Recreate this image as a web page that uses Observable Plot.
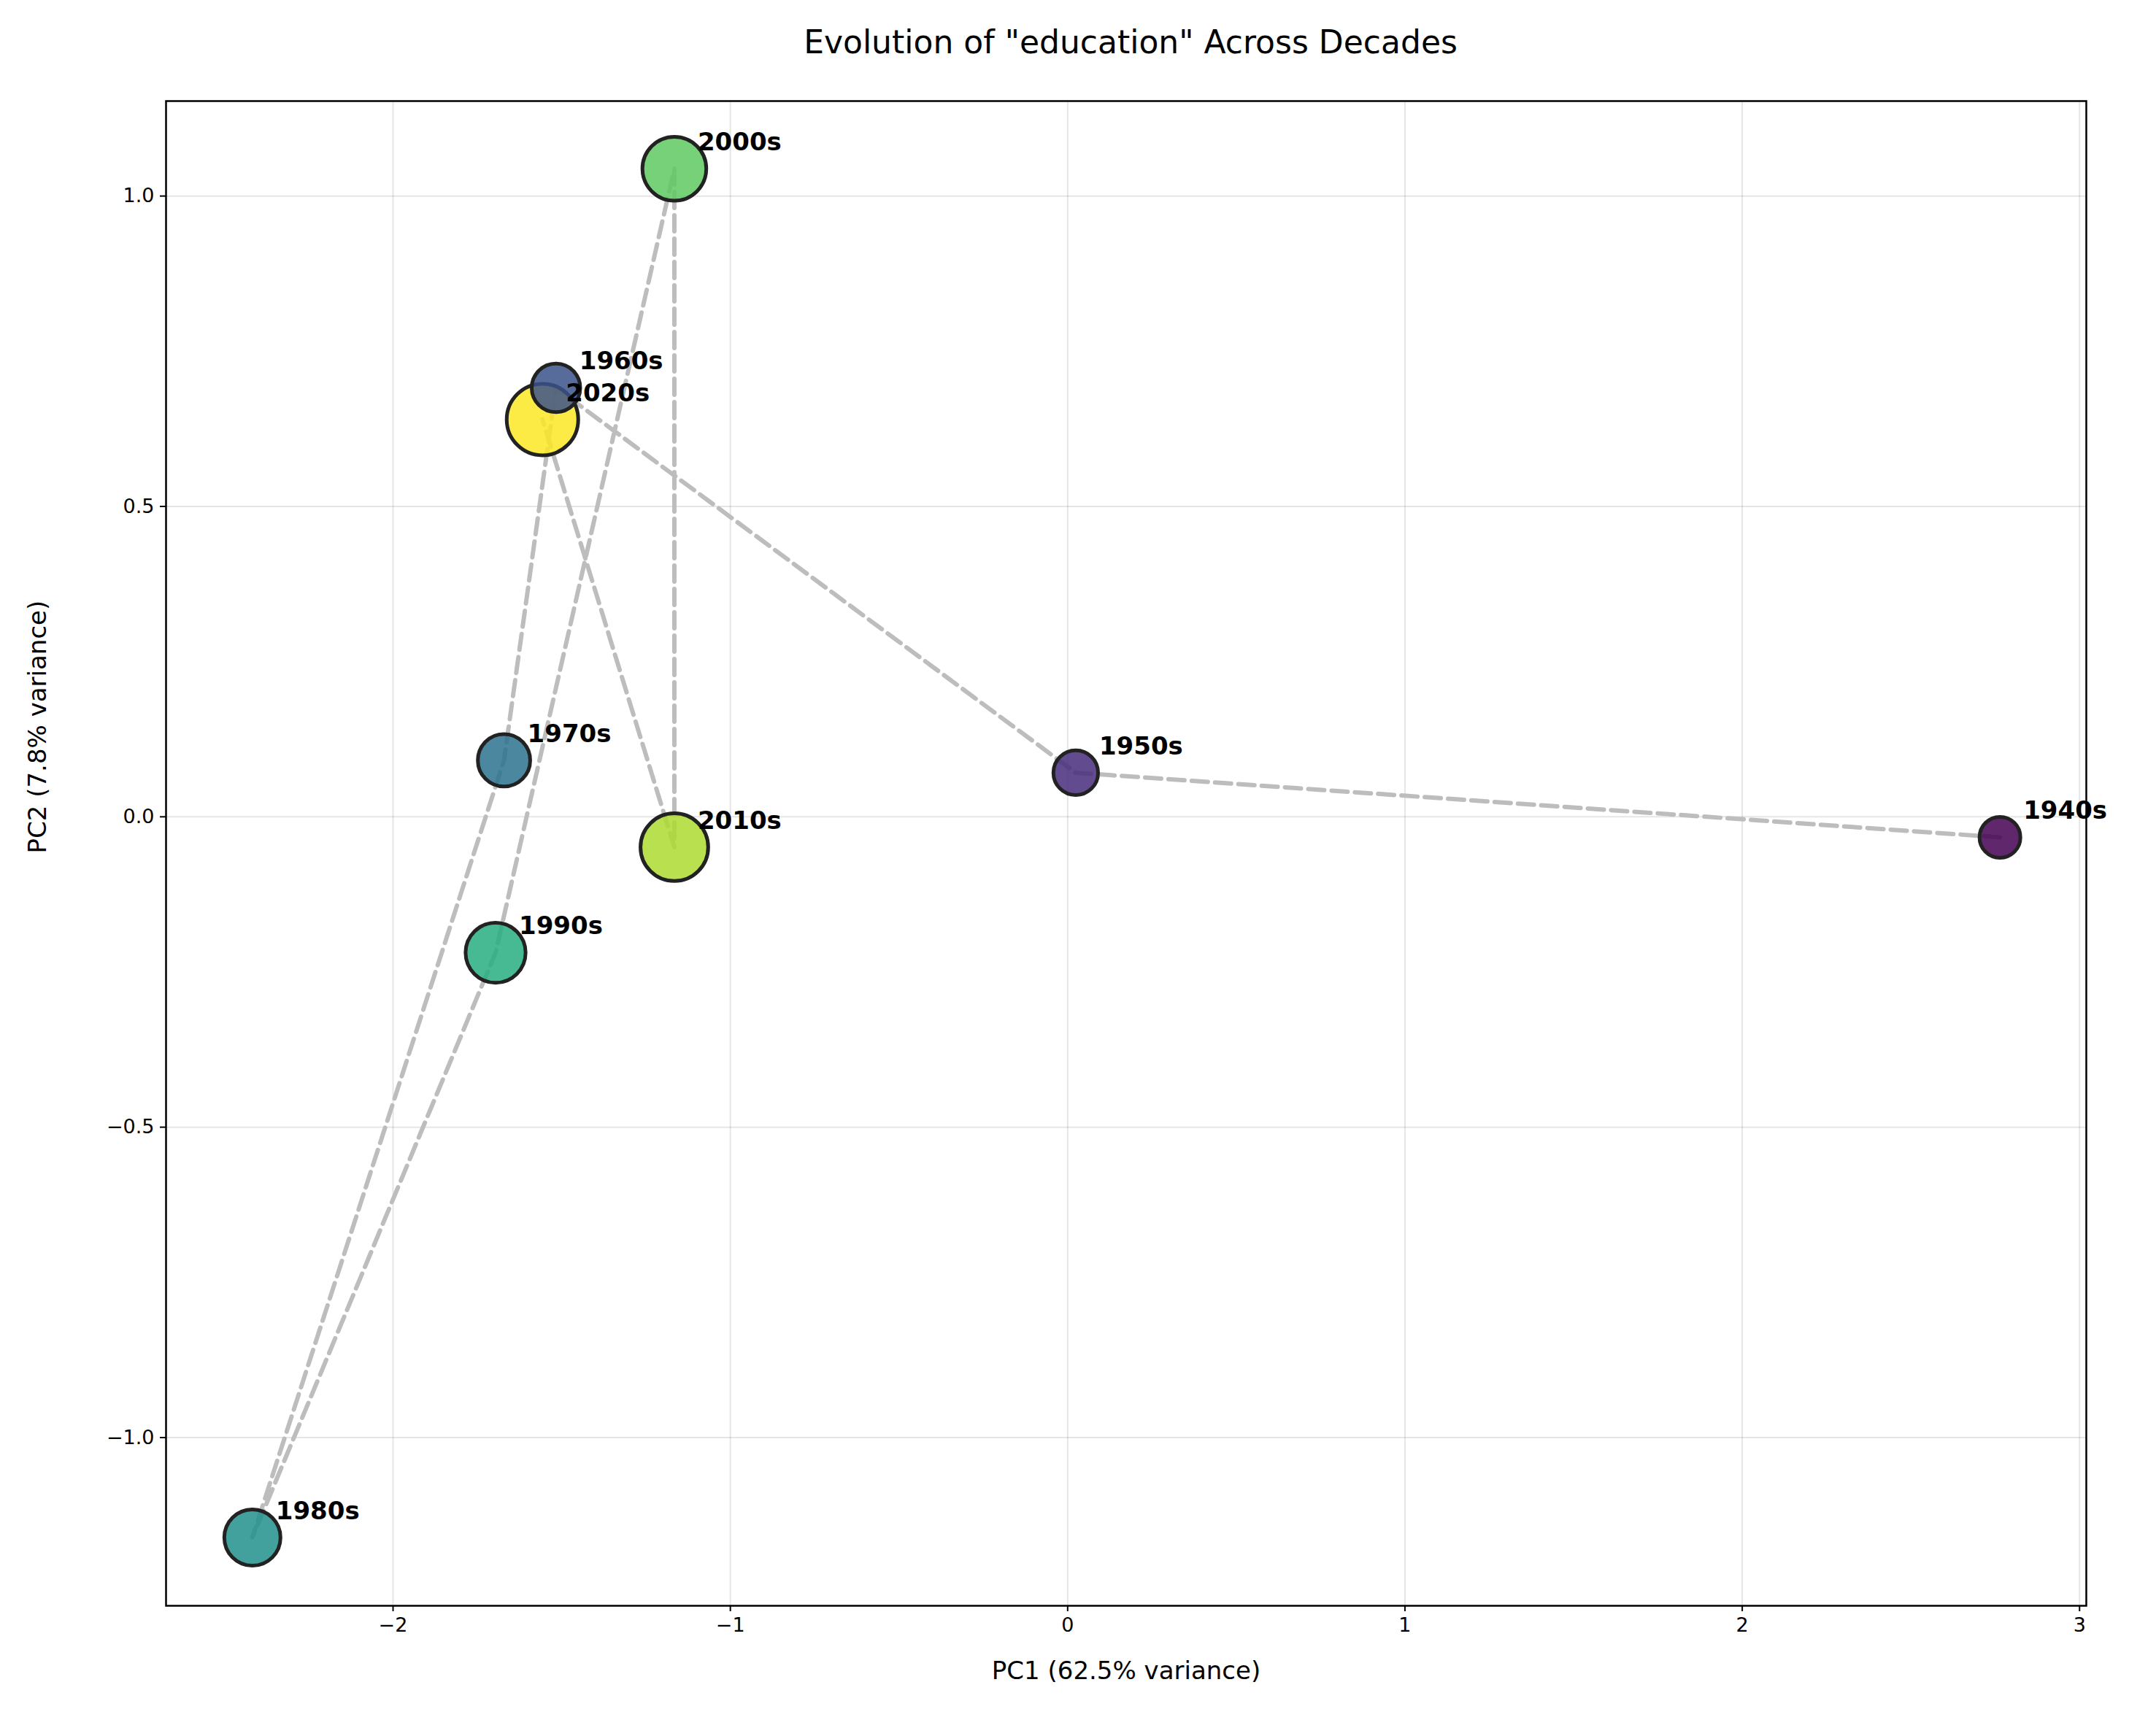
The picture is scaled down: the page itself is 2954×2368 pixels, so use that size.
<!DOCTYPE html>
<html>
<head>
<meta charset="utf-8">
<script src="https://cdn.jsdelivr.net/npm/d3@7"></script>
<script src="https://cdn.jsdelivr.net/npm/@observablehq/plot@0.6"></script>
<style>
  body { margin: 0; background: #fff; font-family: "DejaVu Sans", sans-serif; }
  #title { height: 100px; line-height: 116px; font-size: 44px; text-align: center; padding-left: 144px; width: 2810px; }
</style>
</head>
<body>
<div id="title">Evolution of "education" Across Decades</div>
<div id="vis"></div>
<script>
const decades = ["1940s","1950s","1960s","1970s","1980s","1990s","2000s","2010s","2020s"]
const pc1 = [2.764, 0.024, -1.517, -1.671, -2.417, -1.696, -1.166, -1.166, -1.557]
const pc2 = [-0.033, 0.071, 0.691, 0.091, -1.161, -0.219, 1.044, -0.049, 0.640]

const data = decades.map((d, i) => ({decade: d, i, x: pc1[i], y: pc2[i]}))
const fmt = d3.format(".1f")

let chart = Plot.plot({
  width: 2954,
  height: 2268,
  marginTop: 38,
  marginLeft: 227,
  marginRight: 96,
  marginBottom: 168,
  x: {domain: [-2.673, 3.02], label: null},
  y: {domain: [-1.271, 1.153], label: null},
  r: {type: "linear", domain: [0, 8], range: [28, 49]},
  style: {fontSize: 26, fontFamily: "DejaVu Sans", color: "#000"},
  marks: [
    Plot.gridX([-2, -1, 0, 1, 2, 3], {stroke: "#000", strokeOpacity: 0.1, strokeWidth: 2}),
    Plot.gridY([-1, -0.5, 0, 0.5, 1], {stroke: "#000", strokeOpacity: 0.1, strokeWidth: 2}),
    Plot.line(data, {x: "x", y: "y", stroke: "#bdbdbd", strokeWidth: 6, strokeDasharray: "22,10"}),
    Plot.dot(data, {x: "x", y: "y", r: "i", fill: d => d3.interpolateViridis(d.i / 8), fillOpacity: 0.85, stroke: "#222", strokeWidth: 5}),
    Plot.text(data, {x: "x", y: "y", text: "decade", dx: 32, dy: -36, textAnchor: "start", fontWeight: "bold", fontSize: 34, fill: "#000"}),
    Plot.axisX({ticks: [-2, -1, 0, 1, 2, 3], tickFormat: d => d < 0 ? "−" + Math.abs(d) : d, tickSize: 8, tickPadding: 8, fontSize: 27, strokeWidth: 2, label: null}),
    Plot.axisY({ticks: [-1, -0.5, 0, 0.5, 1], tickFormat: fmt, tickSize: 8, tickPadding: 8, fontSize: 27, strokeWidth: 2, label: null}),
    Plot.text(["PC1 (62.5% variance)"], {frameAnchor: "bottom", dy: 100, fontSize: 34, fill: "#000"}),
    Plot.text(["PC2 (7.8% variance)"], {frameAnchor: "left", dx: -175, rotate: -90, fontSize: 34, fill: "#000"}),
    Plot.frame({stroke: "#000", strokeWidth: 2.5})
  ]
})
d3.select('#vis').append(() => chart)
</script>
</body>
</html>
